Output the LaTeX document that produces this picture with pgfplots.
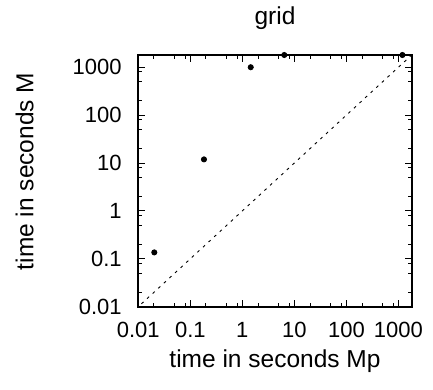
\documentclass[border=0pt]{standalone}
\usepackage{fontspec}
\setmainfont{Liberation Sans}
\usepackage{pgfplots}
\pgfplotsset{compat=1.18}
\begin{document}
\begin{tikzpicture}
\begin{axis}[
  scale only axis,
  width=136.7pt, height=125.85pt,
  xmode=log, ymode=log,
  xmin=0.01, xmax=1800, ymin=0.01, ymax=1800,
  xtick={0.01,0.1,1,10,100,1000},
  xticklabels={0.01,0.1,1,10,100,1000},
  ytick={0.01,0.1,1,10,100,1000},
  yticklabels={0.01,0.1,1,10,100,1000},
  minor xtick={0.02,0.05,0.08,0.2,0.5,0.8,2,5,8,20,50,80,200,500,800},
  minor ytick={0.02,0.05,0.08,0.2,0.5,0.8,2,5,8,20,50,80,200,500,800},
  /pgf/number format/assume math mode=true,
  tick label style={font=\fontsize{11}{13}\selectfont},
  every axis title/.style={font=\fontsize{12.25}{14}\selectfont, at={(axis description cs:0.5,1)}, anchor=base, yshift=15pt},
  every axis x label/.style={font=\fontsize{12.25}{14}\selectfont, at={(axis description cs:0.5,0)}, anchor=base, yshift=-30.15pt},
  every axis y label/.style={font=\fontsize{12.25}{14}\selectfont, at={([xshift=-52.5pt,yshift=4.75pt]axis description cs:0,0.5)}, rotate=90, anchor=base},
  title={grid},
  xlabel={time in seconds Mp},
  ylabel={time in seconds M},
  xticklabel shift=4.3pt,
  yticklabel shift=4.8pt,
  axis line style={line width=0.9pt},
  major tick length=3.5pt,
  minor tick length=2pt,
  every tick/.style={black, line width=0.5pt},
  tick align=inside,
  clip=false,
]
\addplot[black, line width=0.45pt, dash pattern=on 1.4pt off 2.4pt] coordinates {(0.0115,0.0115) (1800,1800)};
\addplot[only marks, mark=*, mark size=1.3pt, black] coordinates {
  (0.0203,0.136) (0.183,11.9) (1.45,1000) (6.4,1800) (1194,1800)
};
\end{axis}
\pgfresetboundingbox
\useasboundingbox ([shift={(-69.15pt,-41.65pt)}]current axis.south west) rectangle ([shift={(147.35pt,153.35pt)}]current axis.south west);
\end{tikzpicture}
\end{document}
